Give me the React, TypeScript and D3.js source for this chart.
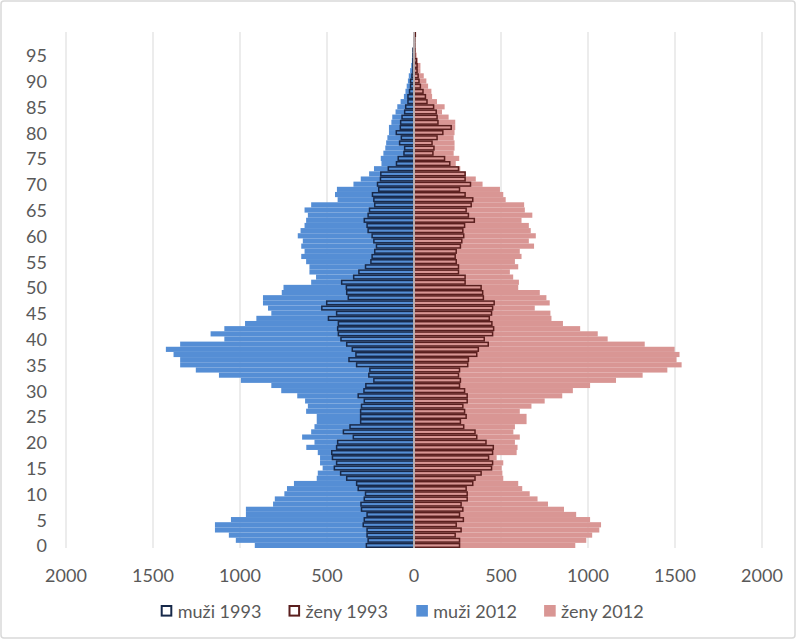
import React from 'react';
import * as d3 from 'd3';

// ages 0..99, values per single year of age
const ages = d3.range(0, 100);
const ageTicks = [0, 5, 10, 15, 20, 25, 30, 35, 40, 45, 50, 55, 60, 65, 70, 75, 80, 85, 90, 95];
const valueTicks = [-2000, -1500, -1000, -500, 0, 500, 1000, 1500, 2000];

const male1993 = [
  278, 268, 274, 274, 296, 290, 274, 306, 309, 290,
  283, 325, 334, 391, 426, 462, 449, 473, 477, 449,
  443, 353, 410, 372, 311, 311, 311, 306, 290, 325,
  292, 281, 235, 264, 258, 334, 378, 338, 359, 391,
  424, 439, 443, 439, 496, 449, 534, 506, 382, 391,
  393, 420, 351, 321, 283, 252, 245, 230, 220, 235,
  245, 268, 274, 290, 268, 260, 230, 235, 243, 207,
  214, 197, 195, 152, 105, 95, 62, 58, 87, 77,
  106, 83, 81, 73, 58, 52, 39, 39, 30, 24,
  24, 16, 10, 10, 10, 10, 10, 5, 5, 3,
];

const female1993 = [
  266, 266, 241, 275, 247, 288, 266, 285, 275, 310,
  310, 304, 342, 355, 390, 450, 456, 433, 456, 460,
  418, 365, 355, 290, 271, 304, 295, 285, 310, 310,
  295, 266, 271, 260, 266, 313, 317, 365, 374, 431,
  408, 456, 462, 452, 437, 450, 456, 465, 403, 399,
  390, 298, 298, 260, 260, 247, 241, 247, 271, 279,
  290, 285, 295, 351, 317, 304, 333, 342, 298, 266,
  329, 298, 298, 260, 210, 180, 113, 119, 108, 137,
  170, 218, 142, 137, 132, 117, 79, 70, 56, 41,
  33, 28, 22, 22, 18, 9, 9, 9, 9, 12,
];

const male2012 = [
  915, 1024, 1064, 1144, 1144, 1052, 966, 966, 810, 800,
  745, 730, 690, 559, 553, 525, 540, 540, 553, 619,
  572, 643, 591, 572, 559, 559, 620, 610, 626, 671,
  763, 820, 995, 1121, 1254, 1344, 1344, 1382, 1426, 1344,
  1090, 1169, 1090, 971, 906, 820, 839, 868, 868, 760,
  750, 591, 563, 601, 601, 620, 648, 629, 648, 639,
  668, 652, 629, 620, 610, 629, 591, 439, 454, 443,
  348, 306, 258, 230, 187, 191, 176, 165, 160, 153,
  144, 144, 130, 125, 106, 96, 77, 58, 49, 42,
  35, 30, 22, 16, 12, 8, 5, 3, 2, 1,
];

const female2012 = [
  927, 990, 1024, 1065, 1075, 1012, 932, 862, 770, 710,
  665, 622, 599, 513, 508, 504, 513, 475, 590, 595,
  580, 608, 571, 580, 647, 647, 608, 675, 751, 852,
  913, 1012, 1161, 1314, 1456, 1538, 1509, 1526, 1498, 1326,
  1113, 1056, 955, 856, 790, 784, 694, 780, 761, 723,
  599, 603, 570, 551, 599, 580, 618, 608, 690, 660,
  700, 671, 660, 618, 680, 637, 633, 527, 513, 494,
  394, 355, 298, 266, 240, 260, 228, 233, 233, 228,
  233, 237, 237, 199, 161, 176, 132, 104, 100, 81,
  71, 56, 37, 37, 22, 15, 10, 6, 4, 2,
];

const legendItems = [
  { label: 'muži 1993', fill: 'none', stroke: '#17294a' },
  { label: 'ženy 1993', fill: 'none', stroke: '#5a1f1e' },
  { label: 'muži 2012', fill: '#558ed5', stroke: 'none' },
  { label: 'ženy 2012', fill: '#d99694', stroke: 'none' },
];

const W = 797;
const H = 642;
const font = 'Lato, "Open Sans", sans-serif';
const textColor = '#595959';
const gridColor = '#d9d9d9';

const App: React.FC = () => {
  const x = d3.scaleLinear().domain([-2000, 2000]).range([66, 762]);
  const y = d3.scaleBand<number>().domain(ages).range([548, 32]).paddingInner(0).paddingOuter(0);
  const bw = y.bandwidth();
  const x0 = x(0);
  const sw = 1.5;

  return (
    <svg width={W} height={H} style={{ position: 'absolute', left: 0, top: 0, background: '#fff' }}>
      <rect x={1} y={1} width={W - 3} height={H - 5} rx={3} fill="#fff" stroke={gridColor} strokeWidth={1.5} />

      {/* gridlines */}
      {valueTicks.map(t => (
        <line key={'g' + t} x1={x(t)} x2={x(t)} y1={32} y2={548} stroke={gridColor} strokeWidth={1} />
      ))}

      {/* 2012 filled bars */}
      {ages.map(a => (
        <rect key={'m12' + a} x={x(-male2012[a])} y={y(a)!} width={x0 - x(-male2012[a])} height={bw} fill="#558ed5" />
      ))}
      {ages.map(a => (
        <rect key={'f12' + a} x={x0} y={y(a)!} width={x(female2012[a]) - x0} height={bw} fill="#d99694" />
      ))}

      {/* 1993 outlined bars */}
      {ages.map(a => (
        <rect key={'m93' + a} x={x(-male1993[a]) + sw / 2} y={y(a)! + sw / 2}
          width={Math.max(0, x0 - x(-male1993[a]) - sw / 2)} height={bw - sw}
          fill="none" stroke={legendItems[0].stroke} strokeWidth={sw} />
      ))}
      {ages.map(a => (
        <rect key={'f93' + a} x={x0} y={y(a)! + sw / 2}
          width={Math.max(0, x(female1993[a]) - x0 - sw / 2)} height={bw - sw}
          fill="none" stroke={legendItems[1].stroke} strokeWidth={sw} />
      ))}

      {/* vertical axis line */}
      <line x1={x0} x2={x0} y1={32} y2={548} stroke={gridColor} strokeWidth={1.5} />

      {/* age labels */}
      {ageTicks.map(a => (
        <text key={'a' + a} x={47} y={y(a)! + bw / 2} textAnchor="end" dominantBaseline="central"
          fontFamily={font} fontSize={18} fill={textColor}>{a}</text>
      ))}

      {/* value labels */}
      {valueTicks.map(t => (
        <text key={'v' + t} x={x(t)} y={575} textAnchor="middle" dominantBaseline="central"
          fontFamily={font} fontSize={18} fill={textColor}>{Math.abs(t)}</text>
      ))}

      {/* legend */}
      {legendItems.map((d, i) => {
        const lx = 160.7 + i * 127.8;
        const outlined = d.fill === 'none';
        return (
          <g key={d.label}>
            <rect x={outlined ? lx + 1 : lx} y={outlined ? 606 : 605} width={outlined ? 9.6 : 11.6} height={outlined ? 9.6 : 11.6}
              fill={outlined ? '#fff' : d.fill} stroke={d.stroke} strokeWidth={outlined ? 2 : 0} />
            <text x={lx + 17} y={611} dominantBaseline="central" fontFamily={font} fontSize={18} fill={textColor}>{d.label}</text>
          </g>
        );
      })}
    </svg>
  );
};

export default App;
